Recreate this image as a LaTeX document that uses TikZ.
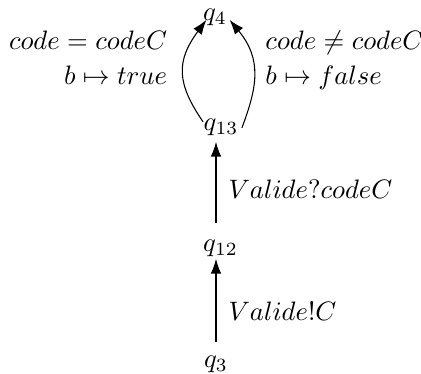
\documentclass[tikz,border=0pt]{standalone}
\usetikzlibrary{arrows.meta}
\begin{document}
\begin{tikzpicture}[x=0.375pt,y=-0.375pt,
  st/.style={inner sep=1pt,outer sep=0pt,anchor=base},
  tr/.style={-{Latex[length=5.5pt,width=3.9pt]}},
  lab/.style={inner sep=2pt}]
\useasboundingbox (0,0) rectangle (421,374);
\node[st] (q4) at (215,20) {$q_4$};
\node[st] (q13) at (221,130) {$q_{13}$};
\node[st] (q12) at (220.5,251) {$q_{12}$};
\node[st] (q3) at (216,367) {$q_3$};
\coordinate (ax) at (216,0);
\draw[tr,shorten <=4pt] (q3.north -| ax) -- node[pos=0.44,right,lab,xshift=2.5pt] {$Valide!C$} (q12.south -| ax);
\draw[tr,shorten <=5.2pt,shorten >=1.5pt] (q12.north -| ax) -- node[pos=0.486,right,lab,xshift=2.5pt] {$Valide?codeC$} (q13.south -| ax);
\draw[tr] ([shift={(2,-5)}]q13.west) .. controls +(-26,-38) and +(-31,42) .. ([shift={(6,-8)}]q4.south west)
  node[pos=0.5,anchor=east,lab,align=right,xshift=-3.9pt,yshift=5.6pt] {$code = codeC$\\[1pt]$b \mapsto true$};
\draw[tr] ([shift={(1,1)}]q13.east) .. controls +(15,-40) and +(33,40) .. ([shift={(0,-8)}]q4.south east)
  node[pos=0.5,anchor=west,lab,align=left,xshift=2.2pt,yshift=5.1pt] {$code \neq codeC$\\[1pt]$b \mapsto false$};
\end{tikzpicture}
\end{document}
